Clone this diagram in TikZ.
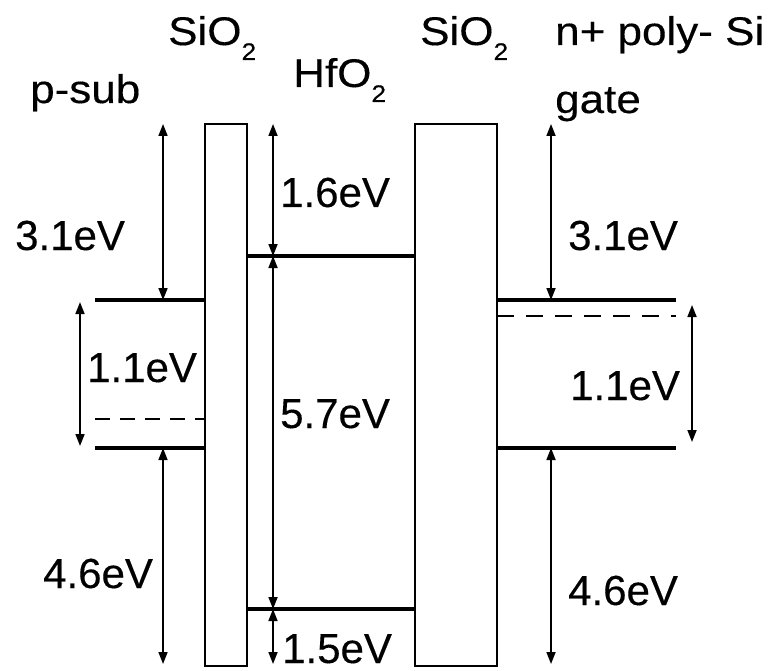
\documentclass[tikz,border=0pt]{standalone}
\usepackage{fontspec}
\setmainfont{Liberation Sans}[FakeBold=0.3]
\newfontfamily\titlefont{Liberation Sans}[FakeStretch=1.1,FakeBold=0.3]
\usetikzlibrary{arrows.meta}
\newcommand\subtwo{\raisebox{-15pt}{\fontsize{24}{24}\selectfont 2}}
\begin{document}
\begin{tikzpicture}[x=1pt,y=-1pt,
  level/.style={line width=3.2pt},
  oxide/.style={draw,line width=2pt,inner sep=0pt,outer sep=0pt},
  dim/.style={line width=1.7pt,{Triangle[width=9pt,length=12pt]}-{Triangle[width=9pt,length=12pt]}},
  dashlevel/.style={line width=2.8pt,dash pattern=on 15pt off 10pt},
  title/.style={anchor=base west,inner sep=0pt,font=\titlefont\fontsize{40}{42}\selectfont},
  ev/.style={anchor=base west,inner sep=0pt,font=\fontsize{42}{44}\selectfont}]
\useasboundingbox (0,0) rectangle (781,671);
% oxide barriers
\node[oxide,minimum width=42pt,minimum height=542pt] (ox1) at (226,395) {};
\node[oxide,minimum width=82pt,minimum height=542pt] (ox2) at (456,395) {};
% p-sub levels
\coordinate (pcL) at (95,300);  \coordinate (pcR) at (ox1.west |- pcL);
\coordinate (pfL) at (95,419);  \coordinate (pfR) at (ox1.west |- pfL);
\coordinate (pvL) at (95,448);  \coordinate (pvR) at (ox1.west |- pvL);
\draw[level] (pcL) -- (pcR);
\draw[dashlevel] (pfL) -- (pfR);
\draw[level] (pvL) -- (pvR);
% HfO2 levels
\coordinate (hcL) at (ox1.east |- 0,256); \coordinate (hcR) at (ox2.west |- 0,256);
\coordinate (hvL) at (ox1.east |- 0,609); \coordinate (hvR) at (ox2.west |- 0,609);
\draw[level] (hcL) -- (hcR);
\draw[level] (hvL) -- (hvR);
% gate levels
\coordinate (gcL) at (ox2.east |- 0,300); \coordinate (gcR) at (676,300);
\coordinate (gfL) at (ox2.east |- 0,316); \coordinate (gfR) at (676,316);
\coordinate (gvL) at (ox2.east |- 0,448); \coordinate (gvR) at (676,448);
\draw[level] (gcL) -- (gcR);
\draw[dashlevel,dash pattern=on 17pt off 12pt] (gfL) -- (gfR);
\draw[level] (gvL) -- (gvR);
% dimension arrows
\coordinate (a1t) at (163,124); \coordinate (a1b) at (163,300);
\coordinate (a2t) at (80,302);  \coordinate (a2b) at (80,446);
\coordinate (a3t) at (163,448); \coordinate (a3b) at (163,664);
\coordinate (b1t) at (273,124); \coordinate (b1b) at (273,256);
\coordinate (b2b) at (273,609); \coordinate (b3b) at (273,664);
\coordinate (c1t) at (551,124); \coordinate (c1b) at (551,300);
\coordinate (c2t) at (692,305); \coordinate (c2b) at (692,442);
\coordinate (c3t) at (551,448); \coordinate (c3b) at (551,664);
\draw[dim] (a1t) -- (a1b);
\draw[dim] (a2t) -- (a2b);
\draw[dim] (a3t) -- (a3b);
\draw[dim] (b1t) -- (b1b);
\draw[dim] (b1b) -- (b2b);
\draw[dim] (b2b) -- (b3b);
\draw[dim] (c1t) -- (c1b);
\draw[dim] (c2t) -- (c2b);
\draw[dim] (c3t) -- (c3b);
% titles
\node[title] (t1) at (168,45) {SiO\subtwo};
\node[title] (t2) at (293,87) {HfO\subtwo};
\node[title] (t3) at (30,103) {p-sub};
\node[title] (t4) at (420,45) {SiO\subtwo};
\node[title] (t5) at (555,45) {n+ poly- Si};
\node[title] (t6) at (555,113) {gate};
% energies
\node[ev] (e1) at (15,250) {3.1eV};
\node[ev] (e2) at (280,207) {1.6eV};
\node[ev] (e3) at (568,250) {3.1eV};
\node[ev] (e4) at (87,382) {1.1eV};
\node[ev] (e5) at (280,428) {5.7eV};
\node[ev] (e6) at (43,588) {4.6eV};
\node[ev] (e7) at (282,663) {1.5eV};
\node[ev] (e8) at (570,400) {1.1eV};
\node[ev] (e9) at (568,605) {4.6eV};
\end{tikzpicture}
\end{document}
